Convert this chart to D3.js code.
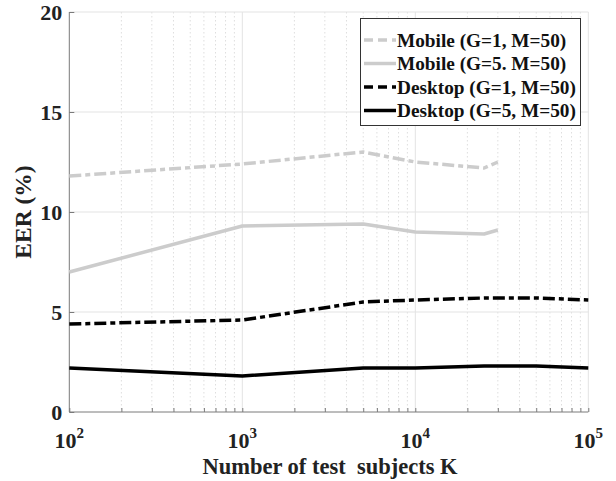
<!DOCTYPE html>
<html><head><meta charset="utf-8">
<script src="https://cdn.jsdelivr.net/npm/d3@7"></script>
<style>body{margin:0;background:#fff}</style>
</head><body><svg id="c" width="616" height="481"></svg>
<script>
const seriesNames = ["Mobile (G=1, M=50)","Mobile (G=5. M=50)","Desktop (G=1, M=50)","Desktop (G=5, M=50)"];
const mobileK = [100, 1000, 5000, 10000, 25000, 30000];
const desktopK = [100, 1000, 5000, 10000, 25000, 50000, 100000];
const mobileG1 = [11.8, 12.4, 13.0, 12.5, 12.2, 12.5];
const mobileG5 = [7.0, 9.3, 9.4, 9.0, 8.9, 9.1];
const desktopG1 = [4.4, 4.6, 5.5, 5.6, 5.7, 5.7, 5.6];
const desktopG5 = [2.2, 1.8, 2.2, 2.2, 2.3, 2.3, 2.2];
const yTicks = [0, 5, 10, 15, 20];
const xTickExps = [2, 3, 4, 5];

const svg = d3.select("#c");
const L = 69.3, R = 588.3, T = 12, B = 412;
const x = d3.scaleLog().domain([100, 100000]).range([L, R]);
const y = d3.scaleLinear().domain([0, 20]).range([B, T]);
const font = "'Liberation Serif','Times New Roman',serif";

// minor grid
const minors = [];
for (let e = 2; e < 5; e++) for (let m = 2; m <= 9; m++) minors.push(m * Math.pow(10, e));
svg.append("g").selectAll("line").data(minors).join("line")
  .attr("x1", d => x(d)).attr("x2", d => x(d)).attr("y1", T).attr("y2", B)
  .attr("stroke", "#dedede").attr("stroke-width", 1).attr("stroke-dasharray", "1.5,2.5");
// major grid
svg.append("g").selectAll("line").data(xTickExps.slice(1).map(e => Math.pow(10, e))).join("line")
  .attr("x1", d => x(d)).attr("x2", d => x(d)).attr("y1", T).attr("y2", B)
  .attr("stroke", "#e3e3e3").attr("stroke-width", 1);
svg.append("g").selectAll("line").data(yTicks.slice(1)).join("line")
  .attr("x1", L).attr("x2", R).attr("y1", d => y(d)).attr("y2", d => y(d))
  .attr("stroke", "#e3e3e3").attr("stroke-width", 1);

// axes
const axisColor = "#7a7a7a";
const yAxis = svg.append("g").attr("transform", `translate(${L},0)`)
  .call(d3.axisLeft(y).tickValues(yTicks).tickSize(-5).tickFormat(""));
yAxis.selectAll("path,line").attr("stroke", axisColor);
yAxis.select(".domain").attr("d", `M0,${B}V${T}`);
const xAxis = svg.append("g").attr("transform", `translate(0,${B})`)
  .call(d3.axisBottom(x).tickValues(minors.concat(xTickExps.map(e => Math.pow(10, e)))).tickSize(-4).tickFormat(""));
xAxis.selectAll("path,line").attr("stroke", axisColor);
xAxis.select(".domain").attr("d", `M${L},0H${R}`);

// y tick labels
svg.append("g").selectAll("text").data(yTicks).join("text")
  .attr("x", L - 7).attr("y", d => y(d) + 8).attr("text-anchor", "end")
  .attr("font-family", font).attr("font-weight", "bold").attr("font-size", 22).attr("fill", "#222")
  .text(d => d);
// x tick labels
const xl = svg.append("g").selectAll("text").data(xTickExps).join("text")
  .attr("x", d => x(Math.pow(10, d))).attr("y", 448).attr("text-anchor", "middle")
  .attr("font-family", font).attr("font-weight", "bold").attr("font-size", 22).attr("fill", "#222");
xl.append("tspan").text("10");
xl.append("tspan").attr("dy", -10).attr("font-size", 15).text(d => d);

// axis titles
svg.append("text").attr("x", 330).attr("y", 474).attr("text-anchor", "middle")
  .attr("font-family", font).attr("font-weight", "bold").attr("font-size", 22.5).attr("fill", "#222")
  .attr("xml:space", "preserve").text("Number of test  subjects K");
svg.append("text").attr("transform", `translate(31,212) rotate(-90)`).attr("text-anchor", "middle")
  .attr("font-family", font).attr("font-weight", "bold").attr("font-size", 23.5).attr("fill", "#222")
  .text("EER (%)");

// series
const styles = [
  {k: mobileK, v: mobileG1, c: "#cccccc", w: 3.5, dash: "12,4,5,4", ldash: "9,5"},
  {k: mobileK, v: mobileG5, c: "#cccccc", w: 3.5, dash: null, ldash: null},
  {k: desktopK, v: desktopG1, c: "#000000", w: 3.5, dash: "12,4,5,4", ldash: "9,5"},
  {k: desktopK, v: desktopG5, c: "#000000", w: 3.5, dash: null, ldash: null}
];
const line = d3.line().x(d => x(d[0])).y(d => y(d[1]));
styles.forEach(s => {
  svg.append("path").datum(s.k.map((k, i) => [k, s.v[i]]))
    .attr("d", line).attr("fill", "none").attr("stroke", s.c).attr("stroke-width", s.w)
    .attr("stroke-linejoin", "round").attr("stroke-dasharray", s.dash);
});

// legend
const lg = svg.append("g");
lg.append("rect").attr("x", 360.5).attr("y", 18.5).attr("width", 220).attr("height", 107)
  .attr("fill", "#fff").attr("stroke", "#333").attr("stroke-width", 1);
styles.forEach((s, i) => {
  const yy = 40 + i * 23.5;
  lg.append("line").attr("x1", 364).attr("x2", 396).attr("y1", yy).attr("y2", yy)
    .attr("stroke", s.c).attr("stroke-width", s.w).attr("stroke-dasharray", s.ldash);
  lg.append("text").attr("x", 397).attr("y", yy + 6.5).attr("font-family", font).attr("font-weight", "bold")
    .attr("font-size", 19.3).attr("fill", "#111").text(seriesNames[i]);
});
</script></body></html>
